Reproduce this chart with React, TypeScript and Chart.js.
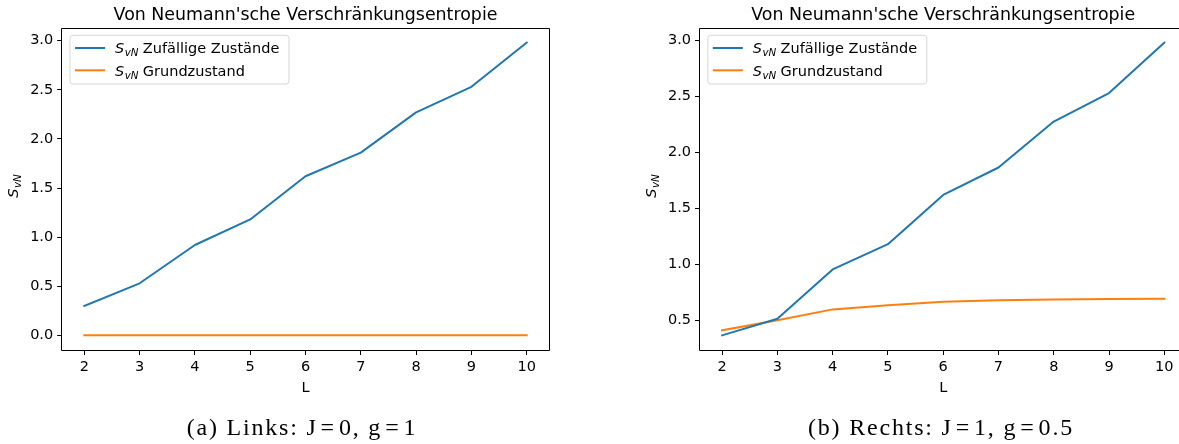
import React, { useEffect, useRef } from "react";
import { Chart, registerables } from "chart.js";

Chart.register(...registerables);

// ---------- data ----------
const L_VALUES = [2, 3, 4, 5, 6, 7, 8, 9, 10];
const LEFT_RANDOM = [0.30, 0.53, 0.92, 1.18, 1.62, 1.86, 2.27, 2.53, 2.98];
const LEFT_GROUND = [0, 0, 0, 0, 0, 0, 0, 0, 0];
const RIGHT_RANDOM = [0.366, 0.515, 0.955, 1.18, 1.62, 1.865, 2.275, 2.53, 2.98];
const RIGHT_GROUND = [0.411, 0.50, 0.598, 0.634, 0.667, 0.679, 0.687, 0.690, 0.693];
const X_TICKS = [2, 3, 4, 5, 6, 7, 8, 9, 10];
const LEFT_Y_TICKS = [0, 0.5, 1.0, 1.5, 2.0, 2.5, 3.0];
const RIGHT_Y_TICKS = [0.5, 1.0, 1.5, 2.0, 2.5, 3.0];
const TITLE = "Von Neumann'sche Verschränkungsentropie";
const SERIES_LABELS = ["Zufällige Zustände", "Grundzustand"];
const X_LABEL = "L";
const CAPTIONS: [string, string, string][] = [
  ["(a) Links: J", "0, g", "1"],
  ["(b) Rechts: J", "1, g", "0.5"],
];
const COLORS = ["#1f77b4", "#ff7f0e"];

const SANS = '"DejaVu Sans", sans-serif';
const TXT = 14.5;

function drawSvN(ctx: CanvasRenderingContext2D, x: number, y: number): number {
  ctx.textAlign = "left";
  ctx.textBaseline = "alphabetic";
  ctx.font = `italic ${TXT}px ${SANS}`;
  ctx.fillText("S", x, y);
  const w1 = ctx.measureText("S").width;
  ctx.font = `italic 10.3px ${SANS}`;
  ctx.fillText("vN", x + w1 + 0.5, y + 3);
  const w2 = ctx.measureText("vN").width;
  return w1 + 0.5 + w2;
}

function measureSvN(ctx: CanvasRenderingContext2D): number {
  ctx.font = `italic ${TXT}px ${SANS}`;
  const w1 = ctx.measureText("S").width;
  ctx.font = `italic 10.3px ${SANS}`;
  const w2 = ctx.measureText("vN").width;
  return w1 + 0.5 + w2;
}

const decorPlugin = {
  id: "decor",
  afterDraw(chart: any) {
    const ctx: CanvasRenderingContext2D = chart.ctx;
    const a = chart.chartArea;
    ctx.save();
    // spines
    ctx.strokeStyle = "#000";
    ctx.lineWidth = 1;
    const l = Math.round(a.left) - 0.5;
    const t = Math.round(a.top) + 0.5;
    const r = Math.round(a.right) + 0.5;
    const b = Math.round(a.bottom) + 0.5;
    ctx.beginPath();
    ctx.moveTo(l, t);
    ctx.lineTo(r, t);
    ctx.lineTo(r, b);
    ctx.lineTo(l, b);
    ctx.closePath();
    ctx.stroke();

    const cx = (a.left + a.right) / 2;
    ctx.fillStyle = "#000";
    // title
    ctx.font = `17.4px ${SANS}`;
    ctx.textAlign = "center";
    ctx.textBaseline = "alphabetic";
    ctx.fillText(TITLE, cx, a.top - 8.5);
    // x label
    ctx.font = `${TXT}px ${SANS}`;
    ctx.fillText(X_LABEL, cx, a.bottom + 41.5);
    // y label
    const w = measureSvN(ctx);
    ctx.save();
    ctx.translate(a.left - 44, (a.top + a.bottom) / 2 - 3);
    ctx.rotate(-Math.PI / 2);
    drawSvN(ctx, -w / 2, 0);
    ctx.restore();

    // legend
    const bx = a.left + 7.8;
    const by = a.top + 7.3;
    const bw = 219;
    const bh = 48.7;
    const rad = 3;
    ctx.beginPath();
    ctx.moveTo(bx + rad, by);
    ctx.lineTo(bx + bw - rad, by);
    ctx.quadraticCurveTo(bx + bw, by, bx + bw, by + rad);
    ctx.lineTo(bx + bw, by + bh - rad);
    ctx.quadraticCurveTo(bx + bw, by + bh, bx + bw - rad, by + bh);
    ctx.lineTo(bx + rad, by + bh);
    ctx.quadraticCurveTo(bx, by + bh, bx, by + bh - rad);
    ctx.lineTo(bx, by + rad);
    ctx.quadraticCurveTo(bx, by, bx + rad, by);
    ctx.closePath();
    ctx.fillStyle = "rgba(255,255,255,0.8)";
    ctx.fill();
    ctx.strokeStyle = "#d6d6d6";
    ctx.lineWidth = 1;
    ctx.stroke();

    const rows = [by + 12.7, by + 35];
    SERIES_LABELS.forEach((lab, i) => {
      const ry = rows[i];
      ctx.strokeStyle = COLORS[i];
      ctx.lineWidth = 2;
      ctx.beginPath();
      ctx.moveTo(bx + 5, ry);
      ctx.lineTo(bx + 35, ry);
      ctx.stroke();
      ctx.fillStyle = "#000";
      const base = ry + 5.2;
      const sw = drawSvN(ctx, bx + 45, base);
      ctx.font = `${TXT}px ${SANS}`;
      ctx.textAlign = "left";
      ctx.fillText(lab, bx + 45 + sw + 4.3, base);
    });
    ctx.restore();
  },
};

type PanelCfg = {
  canvasLeft: number;
  canvasWidth: number;
  areaLeft: number;
  areaRight: number;
  random: number[];
  ground: number[];
  yTicks: number[];
};

function buildConfig(p: PanelCfg): any {
  const xs = L_VALUES;
  const xMinD = Math.min(...xs);
  const xMaxD = Math.max(...xs);
  const xPad = 0.05 * (xMaxD - xMinD);
  const all = [...p.random, ...p.ground];
  const yMinD = Math.min(...all);
  const yMaxD = Math.max(...all);
  const yPad = 0.05 * (yMaxD - yMinD);
  const tickFont = { family: "DejaVu Sans", size: TXT };
  const grid = {
    display: true,
    drawOnChartArea: false,
    drawTicks: true,
    tickLength: 5,
    color: "#000",
    lineWidth: 1,
  };
  return {
    type: "line",
    data: {
      datasets: [p.random, p.ground].map((arr, i) => ({
        label: SERIES_LABELS[i],
        data: xs.map((x, j) => ({ x, y: arr[j] })),
        borderColor: COLORS[i],
        backgroundColor: COLORS[i],
        borderWidth: 2,
        pointRadius: 0,
        tension: 0,
        fill: false,
        borderJoinStyle: "round",
        borderCapStyle: "square",
      })),
    },
    options: {
      animation: false,
      responsive: false,
      devicePixelRatio: 1,
      layout: {
        padding: { left: 0, top: 28, right: p.canvasWidth - p.areaRight, bottom: 0 },
      },
      plugins: {
        legend: { display: false },
        tooltip: { enabled: false },
        title: { display: false },
      },
      scales: {
        x: {
          type: "linear",
          min: xMinD - xPad,
          max: xMaxD + xPad,
          afterBuildTicks: (s: any) => {
            s.ticks = X_TICKS.map((v) => ({ value: v }));
          },
          afterFit: (s: any) => {
            s.height = 444 - 350;
          },
          grid,
          border: { display: false },
          ticks: {
            font: tickFont,
            color: "#000",
            padding: 4,
            maxRotation: 0,
            autoSkip: false,
            callback: (v: number) => String(v),
          },
        },
        y: {
          type: "linear",
          min: yMinD - yPad,
          max: yMaxD + yPad,
          afterBuildTicks: (s: any) => {
            s.ticks = p.yTicks.map((v) => ({ value: v }));
          },
          afterFit: (s: any) => {
            s.width = p.areaLeft;
          },
          grid,
          border: { display: false },
          ticks: {
            font: tickFont,
            color: "#000",
            padding: 4,
            autoSkip: false,
            callback: (v: number) => v.toFixed(1),
          },
        },
      },
    },
    plugins: [decorPlugin],
  };
}

function Panel({ cfg }: { cfg: PanelCfg }) {
  const ref = useRef<HTMLCanvasElement>(null);
  useEffect(() => {
    const chart = new Chart(ref.current as HTMLCanvasElement, buildConfig(cfg));
    return () => chart.destroy();
  }, []);
  return (
    <canvas
      ref={ref}
      width={cfg.canvasWidth}
      height={444}
      style={{
        position: "absolute",
        left: cfg.canvasLeft,
        top: 0,
        width: cfg.canvasWidth,
        height: 444,
      }}
    />
  );
}

function Caption({ parts, center }: { parts: [string, string, string]; center: number }) {
  const eq = { margin: "0 3px" };
  return (
    <div
      style={{
        position: "absolute",
        left: center - 200,
        width: 400,
        top: 413,
        textAlign: "center",
        fontFamily: '"Liberation Serif", serif',
        fontSize: 24,
        lineHeight: "28px",
        letterSpacing: "1.8px",
        color: "#000",
        whiteSpace: "nowrap",
      }}
    >
      {parts[0]}
      <span style={eq}>=</span>
      {parts[1]}
      <span style={eq}>=</span>
      {parts[2]}
    </div>
  );
}

const PANELS: PanelCfg[] = [
  {
    canvasLeft: 0,
    canvasWidth: 600,
    areaLeft: 62.2,
    areaRight: 548.8,
    random: LEFT_RANDOM,
    ground: LEFT_GROUND,
    yTicks: LEFT_Y_TICKS,
  },
  {
    canvasLeft: 600,
    canvasWidth: 620,
    areaLeft: 100,
    areaRight: 586.4,
    random: RIGHT_RANDOM,
    ground: RIGHT_GROUND,
    yTicks: RIGHT_Y_TICKS,
  },
];

export default function App() {
  return (
    <div
      style={{
        position: "absolute",
        left: 0,
        top: 0,
        width: 1179,
        height: 444,
        overflow: "hidden",
        background: "#fff",
      }}
    >
      <Panel cfg={PANELS[0]} />
      <Panel cfg={PANELS[1]} />
      <Caption parts={CAPTIONS[0]} center={302} />
      <Caption parts={CAPTIONS[1]} center={941} />
    </div>
  );
}
